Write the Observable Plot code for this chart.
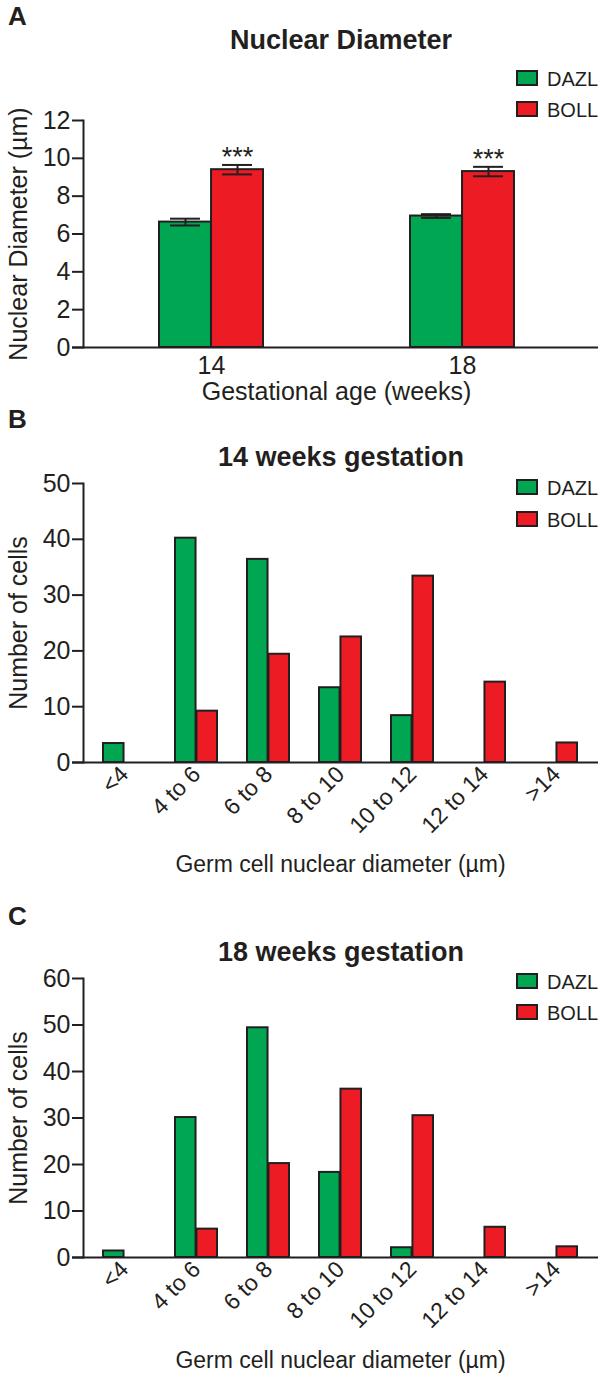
<!DOCTYPE html>
<html>
<head>
<meta charset="utf-8">
<script src="https://cdn.jsdelivr.net/npm/d3@7"></script>
<script src="https://cdn.jsdelivr.net/npm/@observablehq/plot@0.6"></script>
<style>
  html, body { margin: 0; padding: 0; background: #fff; }
  #root { position: relative; width: 603px; height: 1379px; overflow: hidden;
          font-family: "Liberation Sans", Arial, sans-serif; color: #231f20; }
  .t { position: absolute; white-space: nowrap; line-height: 1; }
  .sw { position: absolute; box-sizing: border-box; border: 2px solid #231f20; }
  #root svg { position: absolute; left: 0; }
</style>
</head>
<body>
<div id="root"></div>
<script>
// ---------------- data ----------------
const series = ["DAZL", "BOLL"];
const seriesColors = ["#00a651", "#ed1c24"];

// Panel A: nuclear diameter (mean ± SEM)
const weeks = ["14", "18"];
const dazlMean = [6.63, 6.95];
const dazlSem = [0.18, 0.10];
const bollMean = [9.40, 9.30];
const bollSem = [0.25, 0.25];
const bollSig = ["***", "***"];
const yTicksA = [0, 2, 4, 6, 8, 10, 12];

// Panels B and C: distribution of nuclear diameters
const bins = ["<4", "4 to 6", "6 to 8", "8 to 10", "10 to 12", "12 to 14", ">14"];
const dazl14 = [3.4, 40.2, 36.4, 13.4, 8.4, 0, 0];
const boll14 = [0, 9.2, 19.4, 22.5, 33.4, 14.4, 3.5];
const dazl18 = [1.4, 30.1, 49.4, 18.3, 2.1, 0, 0];
const boll18 = [0, 6.1, 20.2, 36.2, 30.5, 6.5, 2.3];
const yTicksB = [0, 10, 20, 30, 40, 50];
const yTicksC = [0, 10, 20, 30, 40, 50, 60];

// ---------------- helpers ----------------
const root = document.getElementById("root");
const INK = "#231f20";
const FONT = '"Liberation Sans", Arial, sans-serif';
const W = 603;

function addText(txt, x, baseline, size, bold, center) {
  const d = document.createElement("div");
  d.className = "t";
  d.textContent = txt;
  d.style.fontSize = size + "px";
  d.style.fontWeight = bold ? "bold" : "normal";
  d.style.top = (baseline - 0.8465 * size) + "px";
  d.style.left = x + "px";
  if (center) d.style.transform = "translateX(-50%)";
  root.appendChild(d);
}

function addLegend(top1, top2) {
  [[series[0], seriesColors[0], top1], [series[1], seriesColors[1], top2]].forEach(([name, col, t]) => {
    const s = document.createElement("div");
    s.className = "sw";
    s.style.left = "516px";
    s.style.top = t + "px";
    s.style.width = "22px";
    s.style.height = "16px";
    s.style.background = col;
    root.appendChild(s);
    addText(name, 547, t + 16, 20, false, false);
  });
}

function place(svg, top) {
  svg.style.top = top + "px";
  root.appendChild(svg);
}

// ---------------- Panel A ----------------
{
  const top = 0, height = 415, mt = 120, mb = 68, ml = 83, mr = 14;
  const pi = 0.587, po = 0.2976;
  const step = (W - ml - mr) / (weeks.length - pi + 2 * po);
  const bw = step * (1 - pi);
  const capW = 30;
  const dazl = weeks.map((w, i) => ({week: w, series: "DAZL", mean: dazlMean[i], sem: dazlSem[i]}));
  const boll = weeks.map((w, i) => ({week: w, series: "BOLL", mean: bollMean[i], sem: bollSem[i], sig: bollSig[i]}));
  const svg = Plot.plot({
    width: W, height, marginTop: mt, marginBottom: mb, marginLeft: ml, marginRight: mr,
    style: {fontFamily: FONT, fontSize: "25px", color: INK, background: "transparent", overflow: "visible"},
    x: {domain: weeks, paddingInner: pi, paddingOuter: po},
    y: {domain: [0, 12]},
    color: {domain: series, range: seriesColors},
    marks: [
      Plot.barY(dazl, {x: "week", y: "mean", fill: "series", stroke: INK, strokeWidth: 2, insetRight: bw / 2}),
      Plot.barY(boll, {x: "week", y: "mean", fill: "series", stroke: INK, strokeWidth: 2, insetLeft: bw / 2}),
      Plot.ruleX(dazl, {x: "week", y1: d => d.mean - d.sem, y2: d => d.mean + d.sem, dx: -bw / 4, stroke: INK, strokeWidth: 2}),
      Plot.ruleX(boll, {x: "week", y1: d => d.mean - d.sem, y2: d => d.mean + d.sem, dx: bw / 4, stroke: INK, strokeWidth: 2}),
      Plot.tickY(dazl, {x: "week", y: d => d.mean + d.sem, stroke: INK, strokeWidth: 2, insetLeft: bw / 4 - capW / 2, insetRight: bw * 3 / 4 - capW / 2}),
      Plot.tickY(dazl, {x: "week", y: d => d.mean - d.sem, stroke: INK, strokeWidth: 2, insetLeft: bw / 4 - capW / 2, insetRight: bw * 3 / 4 - capW / 2}),
      Plot.tickY(boll, {x: "week", y: d => d.mean + d.sem, stroke: INK, strokeWidth: 2, insetLeft: bw * 3 / 4 - capW / 2, insetRight: bw / 4 - capW / 2}),
      Plot.tickY(boll, {x: "week", y: d => d.mean - d.sem, stroke: INK, strokeWidth: 2, insetLeft: bw * 3 / 4 - capW / 2, insetRight: bw / 4 - capW / 2}),
      Plot.text(boll, {x: "week", y: d => d.mean + d.sem, text: "sig", dx: bw / 4, lineAnchor: "top", dy: -18, fontSize: 27, fill: INK}),
      Plot.ruleY([0], {stroke: INK, strokeWidth: 2, insetLeft: -11, insetRight: -9}),
      Plot.frame({anchor: "left", stroke: INK, strokeWidth: 2}),
      Plot.axisY({ticks: yTicksA, tickSize: 11, tickPadding: 2, strokeWidth: 2, stroke: INK, fontSize: 25,
                  label: "Nuclear Diameter (µm)", labelAnchor: "center", labelOffset: 74, labelArrow: "none"}),
      Plot.axisX({tickSize: 0, tickPadding: 9, fontSize: 25,
                  label: "Gestational age (weeks)", labelAnchor: "center", labelOffset: 52, labelArrow: "none"})
    ]
  });
  place(svg, top);
  addText("A", 8, 25, 26, true, false);
  addText("Nuclear Diameter", 341, 50, 27, true, true);
  addLegend(70, 101);
}

// ---------------- Panels B and C ----------------
function histPanel(top, height, mt, mb, ymax, yTicks, dazlVals, bollVals, xLabelOffset) {
  const ml = 83, mr = 6;
  const pi = 0.411, po = 0.233;
  const step = (W - ml - mr) / (bins.length - pi + 2 * po);
  const bw = step * (1 - pi);
  const dazl = bins.map((b, i) => ({bin: b, series: "DAZL", v: dazlVals[i]})).filter(d => d.v > 0);
  const boll = bins.map((b, i) => ({bin: b, series: "BOLL", v: bollVals[i]})).filter(d => d.v > 0);
  const svg = Plot.plot({
    width: W, height, marginTop: mt, marginBottom: mb, marginLeft: ml, marginRight: mr,
    style: {fontFamily: FONT, fontSize: "25px", color: INK, background: "transparent", overflow: "visible"},
    x: {domain: bins, paddingInner: pi, paddingOuter: po},
    y: {domain: [0, ymax]},
    color: {domain: series, range: seriesColors},
    marks: [
      Plot.barY(dazl, {x: "bin", y: "v", fill: "series", stroke: INK, strokeWidth: 2, insetRight: bw / 2}),
      Plot.barY(boll, {x: "bin", y: "v", fill: "series", stroke: INK, strokeWidth: 2, insetLeft: bw / 2}),
      Plot.ruleY([0], {stroke: INK, strokeWidth: 2, insetLeft: -11, insetRight: -1}),
      Plot.frame({anchor: "left", stroke: INK, strokeWidth: 2}),
      Plot.axisY({ticks: yTicks, tickSize: 11, tickPadding: 2, strokeWidth: 2, stroke: INK, fontSize: 25,
                  label: "Number of cells", labelAnchor: "center", labelOffset: 74, labelArrow: "none"}),
      Plot.axisX({tickSize: 0, tickPadding: 8, tickRotate: -45, fontSize: 23,
                  label: "Germ cell nuclear diameter (µm)", labelAnchor: "center", labelOffset: xLabelOffset, labelArrow: "none"})
    ]
  });
  place(svg, top);
}

histPanel(415, 475, 68, 128, 50, yTicksB, dazl14, boll14, 109);
addText("B", 8, 428, 26, true, false);
addText("14 weeks gestation", 341, 467, 27, true, true);
addLegend(479, 511);

histPanel(890, 489, 88, 122, 60, yTicksC, dazl18, boll18, 110);
addText("C", 8, 925, 26, true, false);
addText("18 weeks gestation", 341, 962, 27, true, true);
addLegend(973, 1004);
</script>
</body>
</html>
